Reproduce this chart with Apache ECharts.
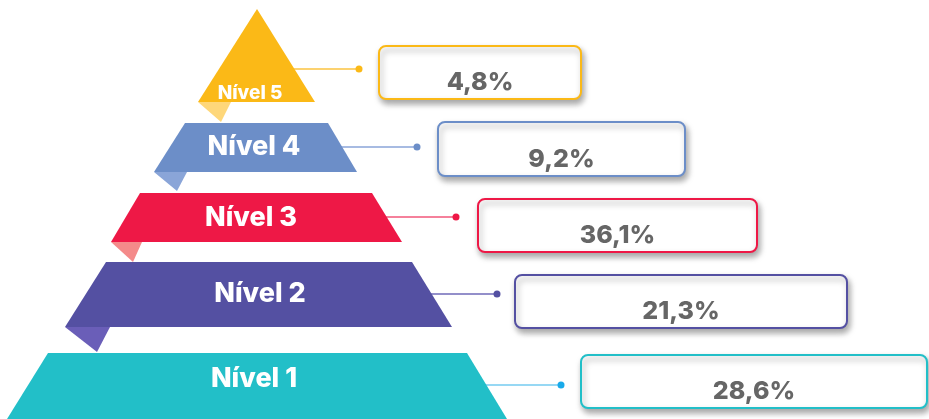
<!DOCTYPE html>
<html>
<head>
<meta charset="utf-8">
<script src="https://cdn.jsdelivr.net/npm/echarts@6/dist/echarts.min.js"></script>
<style>html,body{margin:0;padding:0;background:#fff}#c{width:929px;height:419px}</style>
</head>
<body>
<div id="c"></div>
<script>
// ---- data ----
const levelNames = ['Nível 5', 'Nível 4', 'Nível 3', 'Nível 2', 'Nível 1'];
const shareValues = [4.8, 9.2, 36.1, 21.3, 28.6];
const valueLabels = shareValues.map(v => v.toFixed(1).replace('.', ',') + '%');

// ---- styles ----
const mainColors = ['#FBB917', '#6C8EC8', '#EE1846', '#5450A2', '#22BFC8'];
const foldColors = ['#FED77A', '#8AA5D8', '#F48A8A', '#6A5EB8', null];
const lineColors = ['#FBC340', '#8AA5D8', '#F2577A', '#6F6AB8', '#74CBF0'];
const dotColors  = ['#FBB917', '#6C8EC8', '#EE1846', '#5450A2', '#18AAEA'];

// ---- layout (pixel space of the hidden axes) ----
const shapes = [
  {pts: [[257,9],[315,102],[198,102]], fold: [[198,102],[231,102],[221,122]]},
  {pts: [[185,123],[328,123],[357,172],[154,172]], fold: [[154,172],[187,172],[177,191]]},
  {pts: [[140,193],[372,193],[402,242],[111,242]], fold: [[111,242],[142,242],[133,262]]},
  {pts: [[106,262],[412,262],[452,327],[65,327]], fold: [[65,327],[110,327],[97,352]]},
  {pts: [[48,353],[467,353],[507,419],[7,419]], fold: null}
];
const labelPos = [[250,93,19],[254,147,27],[251,218,27],[260,294,27],[254,379,27]];
const connectors = [[270,69,359],[300,147,417],[320,217,456],[330,294,497],[340,385,561]];
const boxes = [[379,46,581,99],[438,122,685,176],[478,199,757,252],[515,275,847,328],[581,355,927,408]];

const chart = echarts.init(document.getElementById('c'), null, {renderer: 'canvas'});
const FONT = 'Inter, "Open Sans", sans-serif';

function pyramidItem(params, api) {
  const i = api.value(0);
  const c = p => api.coord(p);
  const children = [];
  const cn = connectors[i];
  const a = c([cn[0], cn[1]]), d = c([cn[2], cn[1]]);
  children.push({type: 'line', shape: {x1: a[0], y1: a[1], x2: d[0], y2: d[1]},
    style: {stroke: lineColors[i], lineWidth: 1.5}});
  children.push({type: 'circle', shape: {cx: d[0], cy: d[1], r: 3.5}, style: {fill: dotColors[i]}});
  if (shapes[i].fold) {
    children.push({type: 'polygon', shape: {points: shapes[i].fold.map(c)}, style: {fill: foldColors[i]}});
  }
  children.push({type: 'polygon', shape: {points: shapes[i].pts.map(c)}, style: {fill: mainColors[i]}});
  const lp = c([labelPos[i][0], labelPos[i][1]]);
  children.push({type: 'text', style: {text: levelNames[i], x: lp[0], y: lp[1], fill: '#fff',
    font: '800 ' + labelPos[i][2] + 'px ' + FONT, align: 'center', verticalAlign: 'middle',
    textAlign: 'center', textVerticalAlign: 'middle'}});
  return {type: 'group', children: children};
}

function boxItem(params, api) {
  const i = api.value(0);
  const b = boxes[i];
  const p0 = api.coord([b[0], b[1]]);
  const p1 = api.coord([b[2], b[3]]);
  const w = p1[0] - p0[0], h = p1[1] - p0[1];
  return {type: 'group', children: [
    {type: 'rect', shape: {x: p0[0], y: p0[1], width: w, height: h, r: 7},
      style: {fill: '#fff', stroke: mainColors[i], lineWidth: 2,
        shadowColor: 'rgba(0,0,0,0.35)', shadowBlur: 6, shadowOffsetX: 2, shadowOffsetY: 4}},
    {type: 'text', style: {text: valueLabels[i], x: p0[0] + w / 2, y: p0[1] + h * 0.69,
      fill: '#666666', font: '800 25px ' + FONT, align: 'center', verticalAlign: 'middle',
      textAlign: 'center', textVerticalAlign: 'middle'}}
  ]};
}

const seriesData = levelNames.map((n, i) => [i, shareValues[i]]);

chart.setOption({
  animation: false,
  grid: {left: 0, right: 0, top: 0, bottom: 0},
  xAxis: {type: 'value', min: 0, max: 929, show: false},
  yAxis: {type: 'value', min: 0, max: 419, inverse: true, show: false},
  series: [
    {type: 'custom', renderItem: boxItem, data: seriesData, z: 1},
    {type: 'custom', renderItem: pyramidItem, data: seriesData, z: 2}
  ]
});
</script>
</body>
</html>
